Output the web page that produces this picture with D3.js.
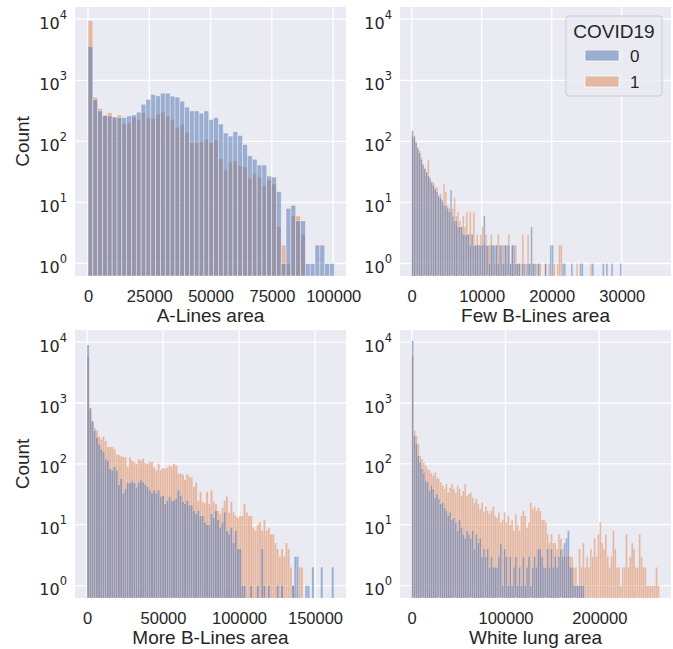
<!DOCTYPE html>
<html>
<head>
<meta charset="utf-8">
<script src="https://cdn.jsdelivr.net/npm/d3@7"></script>
<style>
body { margin: 0; background: #fff; }
text { fill: #262626; }
</style>
</head>
<body>
<div id="chart"></div>
<script>
// panel variables and hue levels
var panelNames = ["A-Lines area", "Few B-Lines area", "More B-Lines area", "White lung area"];
var hueLevels = ["0", "1"];
var binWidths = [1970, 250, 1450, 2000];

// counts per bin (COVID19 = 0 / 1)
var aLines0 = [3600, 480, 315, 265, 260, 250, 245, 245, 260, 270,
    300, 405, 485, 585, 555, 615, 615, 550, 530, 455,
    365, 315, 315, 290, 315, 228, 245, 192, 137, 122,
    144, 125, 89, 58, 51, 41, 41, 27, 26, 15,
    1, 8, 9, 5, 5, 1, 1, 2, 2, 1, 1];
var aLines1 = [9500, 530, 345, 270, 295, 250, 270, 195, 200, 250,
    230, 295, 245, 235, 280, 300, 260, 230, 170, 190,
    141, 95, 95, 99, 109, 95, 105, 52, 34, 46,
    48, 40, 38, 25, 30, 26, 19, 23, 20, 4,
    2, 1, 6, 6, 3, 0, 0, 0, 0, 0, 0];

var fewB0 = [150, 120, 95, 80, 65, 50, 42, 36, 32, 27,
    24, 22, 19, 17, 15, 13, 12, 11, 9, 9,
    8, 7, 16, 6, 5, 5, 4, 4, 4, 3,
    3, 3, 3, 2, 3, 2, 2, 2, 2, 2,
    2, 6, 2, 2, 1, 2, 2, 2, 2, 1,
    2, 2, 1, 2, 2, 2, 1, 2, 2, 1,
    1, 1, 0, 1, 1, 0, 1, 1, 4, 1,
    1, 0, 1, 0, 0, 0, 1, 0, 0, 2,
    2, 0, 0, 0, 0, 0, 1, 1, 0, 0,
    0, 1, 0, 0, 0, 0, 1, 1, 0, 0,
    0, 0, 0, 1, 0, 0, 0, 0, 0, 1,
    0, 1, 0, 0, 1, 0, 0, 0, 0, 1,
    0, 0, 0];
var fewB1 = [120, 125, 100, 75, 70, 55, 40, 38, 30, 50,
    26, 20, 21, 16, 18, 12, 14, 10, 20, 15,
    9, 8, 7, 8, 12, 6, 7, 5, 4, 6,
    4, 7, 3, 7, 3, 7, 2, 3, 2, 3,
    4, 2, 3, 2, 2, 3, 2, 1, 2, 3,
    2, 1, 2, 2, 1, 3, 1, 2, 1, 2,
    1, 1, 1, 3, 0, 1, 3, 1, 0, 1,
    0, 1, 1, 1, 0, 0, 1, 0, 1, 0,
    0, 1, 0, 1, 2, 2, 0, 0, 0, 0,
    0, 0, 0, 0, 1, 0, 0, 0, 0, 0,
    0, 0, 1, 0, 0, 0, 0, 0, 0, 0,
    0, 0, 0, 0, 0, 0, 0, 0, 0, 0,
    0, 0, 0];

var moreB0 = [9000, 830, 500, 355, 270, 210, 175, 160, 120, 113,
    83, 78, 89, 78, 45, 57, 33, 39, 49, 48,
    52, 49, 41, 50, 54, 50, 46, 42, 37, 33,
    37, 33, 37, 29, 30, 22, 25, 29, 25, 25,
    27, 37, 30, 24, 22, 25, 21, 21, 17, 15,
    17, 14, 14, 11, 10, 10, 15, 13, 17, 12,
    9, 11, 16, 8, 7, 9, 5, 8, 4, 4,
    1, 1, 0, 0, 1, 0, 0, 1, 0, 4,
    1, 0, 1, 0, 0, 0, 1, 0, 1, 0,
    0, 0, 0, 1, 3, 3, 0, 0, 0, 1,
    1, 0, 2, 0, 0, 0, 2, 0, 0, 0, 0, 2];
var moreB1 = [5600, 800, 515, 390, 355, 280, 255, 280, 240, 190,
    190, 190, 175, 145, 140, 133, 130, 128, 90, 128,
    113, 107, 100, 120, 113, 123, 103, 100, 110, 107,
    88, 78, 100, 80, 86, 83, 88, 95, 90, 100,
    95, 70, 69, 67, 55, 67, 62, 60, 42, 49,
    25, 35, 24, 23, 35, 22, 37, 24, 22, 17,
    15, 19, 25, 29, 16, 24, 16, 14, 13, 14,
    14, 22, 16, 14, 14, 9, 8, 10, 11, 8,
    12, 8, 9, 7, 7, 5, 4, 3, 4, 3,
    5, 4, 2, 1, 0, 0, 2, 2, 0, 0,
    0, 0, 0, 0, 0, 0, 0, 0, 0, 0, 0, 0];

var whiteLung0 = [10500, 290, 215, 137, 106, 83, 73, 53, 50, 36,
    44, 39, 28, 32, 27, 22, 23, 19, 17, 14,
    16, 12, 13, 11, 8, 12, 9, 7, 6, 8,
    7, 6, 8, 4, 7, 5, 6, 3, 4, 3,
    4, 2, 3, 2, 2, 2, 3, 5, 1, 4,
    3, 1, 3, 1, 2, 3, 1, 2, 1, 3,
    1, 2, 3, 1, 2, 3, 2, 4, 4, 3,
    2, 2, 4, 2, 4, 2, 3, 2, 3, 4,
    3, 5, 6, 8, 2, 2, 1, 1, 1, 1,
    1, 1, 0, 0, 0, 0, 0, 0, 0, 0,
    0, 0, 0, 0, 0, 0, 0, 0, 0, 0,
    0, 0, 0, 0, 0, 0, 0, 0, 0, 0,
    0, 0, 0, 0, 0, 0, 0, 0, 0, 0, 0, 0];
var whiteLung1 = [6000, 355, 290, 215, 137, 120, 106, 94, 83, 78,
    71, 64, 73, 60, 57, 50, 44, 39, 47, 34,
    41, 47, 39, 34, 44, 39, 30, 36, 47, 30,
    32, 34, 28, 23, 27, 22, 18, 23, 16, 20,
    17, 15, 17, 20, 14, 13, 16, 11, 12, 16,
    11, 14, 10, 12, 8, 15, 10, 8, 14, 17,
    14, 9, 11, 23, 18, 20, 17, 19, 17, 12,
    12, 11, 7, 5, 7, 5, 5, 4, 7, 6,
    4, 3, 3, 3, 3, 3, 2, 2, 1, 4,
    2, 5, 2, 3, 2, 4, 3, 6, 3, 7,
    11, 5, 4, 7, 3, 2, 3, 8, 4, 2,
    2, 1, 2, 2, 7, 2, 3, 5, 4, 2,
    2, 7, 3, 2, 2, 1, 1, 1, 1, 1, 2, 1];

var series = [[aLines0, aLines1], [fewB0, fewB1], [moreB0, moreB1], [whiteLung0, whiteLung1]];

// tick labels
var xTicks = [[0, 25000, 50000, 75000, 100000], [0, 10000, 20000, 30000],
    [0, 50000, 100000, 150000], [0, 100000, 200000]];
var yTicks = [1, 10, 100, 1000, 10000];

var colors = ["#4c72b0", "#dd8452"];

var layout = [
    {x: 75, y: 7, w: 271, h: 269, xd: [-5300, 105220], ylabel: true},
    {x: 400, y: 7, w: 271, h: 269, xd: [-1670, 37040], ylabel: false},
    {x: 75, y: 330, w: 271, h: 268, xd: [-7890, 170400], ylabel: true},
    {x: 400, y: 330, w: 271, h: 268, xd: [-12470, 276400], ylabel: false}
];

var svg = d3.select("#chart").append("svg")
    .attr("width", 673)
    .attr("height", 649)
    .style("font-family", "'Liberation Sans', Arial, sans-serif");

layout.forEach(function (p, k) {
    var x = d3.scaleLinear().domain(p.xd).range([0, p.w]);
    var y = d3.scaleLog().domain([0.624, 15850]).range([p.h, 0]);
    var bw = binWidths[k];

    var g = svg.append("g").attr("transform", "translate(" + p.x + "," + p.y + ")");

    g.append("rect")
        .attr("width", p.w)
        .attr("height", p.h)
        .attr("fill", "#eaeaf2");

    // grid
    g.selectAll(".gx").data(xTicks[k]).enter().append("line")
        .attr("x1", d => x(d)).attr("x2", d => x(d))
        .attr("y1", 0).attr("y2", p.h)
        .attr("stroke", "#fff").attr("stroke-width", 1.3);
    g.selectAll(".gy").data(yTicks).enter().append("line")
        .attr("y1", d => y(d)).attr("y2", d => y(d))
        .attr("x1", 0).attr("x2", p.w)
        .attr("stroke", "#fff").attr("stroke-width", 1.3);

    // bars: level 1 first, level 0 drawn on top
    var thin = (x(bw) - x(0)) < 3;
    [1, 0].forEach(function (h) {
        var bins = series[k][h].map(function (c, i) { return {c: c, i: i}; })
            .filter(d => d.c > 0);
        g.append("g").selectAll("rect").data(bins).enter().append("rect")
            .attr("x", d => x(d.i * bw))
            .attr("width", d => x((d.i + 1) * bw) - x(d.i * bw))
            .attr("y", d => y(d.c))
            .attr("height", d => p.h - y(d.c))
            .attr("fill", colors[h])
            .attr("fill-opacity", 0.5)
            .attr("stroke", "#fff")
            .attr("stroke-opacity", 0.5)
            .attr("stroke-width", thin ? 0.3 : 0.7);
    });

    // x axis
    var xa = g.append("g")
        .attr("transform", "translate(0," + p.h + ")")
        .call(d3.axisBottom(x).tickValues(xTicks[k]).tickSize(0).tickPadding(14).tickFormat(d3.format("d")));
    xa.select(".domain").remove();
    xa.selectAll("text")
        .attr("fill", "#262626")
        .style("font-size", "16.5px")
        .style("font-family", "'Liberation Sans', Arial, sans-serif");

    // y axis with 10^n labels
    var ya = g.append("g")
        .call(d3.axisLeft(y).tickValues(yTicks).tickSize(0).tickPadding(8).tickFormat(""));
    ya.select(".domain").remove();
    ya.selectAll(".tick text").each(function (d) {
        var t = d3.select(this)
            .attr("dy", 9)
            .attr("fill", "#262626")
            .style("font-family", "'DejaVu Sans', sans-serif")
            .style("font-size", "16px");
        t.append("tspan").text("10");
        t.append("tspan").attr("dy", -10).style("font-size", "11.5px").text(Math.round(Math.log10(d)));
    });

    g.append("text")
        .attr("x", p.w / 2)
        .attr("y", p.h + 46)
        .attr("text-anchor", "middle")
        .style("font-size", "19px")
        .text(panelNames[k]);

    if (p.ylabel) {
        g.append("text")
            .attr("transform", "translate(" + (29 - p.x) + "," + (p.h / 2) + ") rotate(-90)")
            .attr("text-anchor", "middle")
            .style("font-size", "19px")
            .text("Count");
    }

    // legend in the second panel
    if (k === 1) {
        var lg = g.append("g").attr("transform", "translate(" + (566 - p.x) + "," + (16 - p.y) + ")");
        lg.append("rect")
            .attr("width", 96).attr("height", 80).attr("rx", 3)
            .attr("fill", "#eaeaf2").attr("fill-opacity", 0.8)
            .attr("stroke", "#cccccc");
        lg.append("text")
            .attr("x", 48).attr("y", 22)
            .attr("text-anchor", "middle")
            .style("font-size", "19px")
            .text("COVID19");
        hueLevels.forEach(function (lv, j) {
            lg.append("rect")
                .attr("x", 19).attr("y", 34 + j * 26)
                .attr("width", 34).attr("height", 11)
                .attr("fill", colors[j]).attr("fill-opacity", 0.5)
                .attr("stroke", "#fff").attr("stroke-width", 0.7);
            lg.append("text")
                .attr("x", 64).attr("y", 46 + j * 26)
                .style("font-size", "17px")
                .text(lv);
        });
    }
});
</script>
</body>
</html>
